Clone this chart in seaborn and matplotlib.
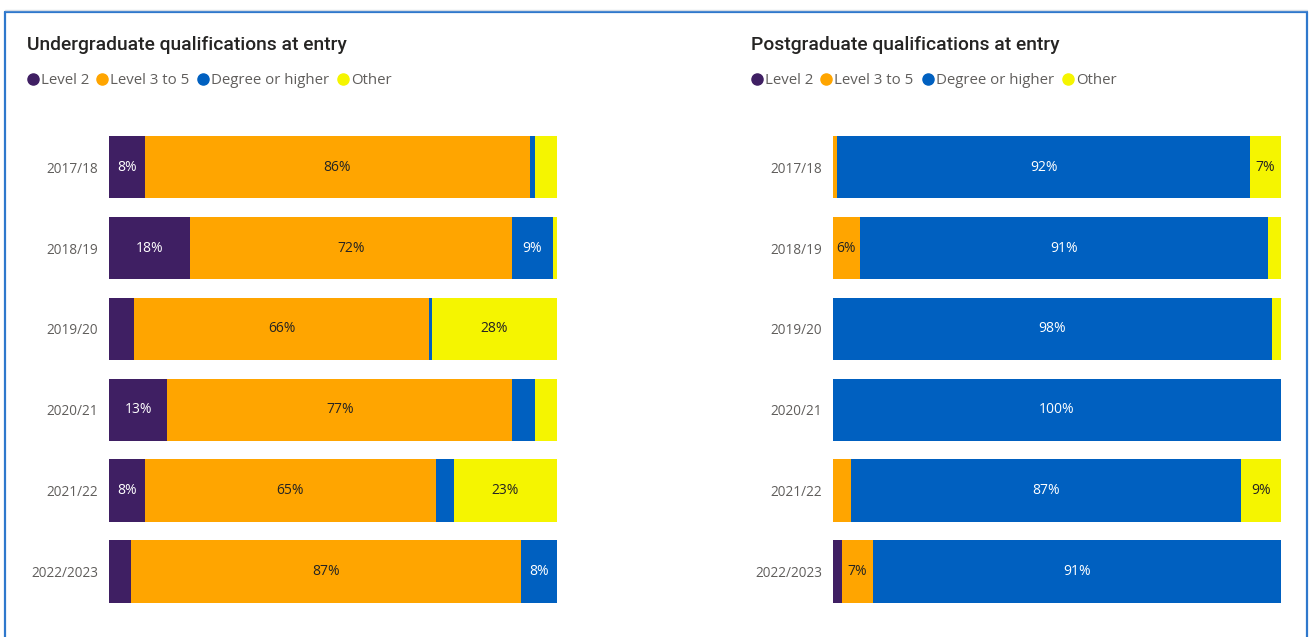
import numpy as np
import pandas as pd
import matplotlib
matplotlib.use("Agg")
import matplotlib.pyplot as plt
import seaborn as sns
from matplotlib.lines import Line2D

# ---- data (percent of entrants) ----
years = ["2017/18", "2018/19", "2019/20", "2020/21", "2021/22", "2022/2023"]
series = ["Level 2", "Level 3 to 5", "Degree or higher", "Other"]

ug_level2 = [8, 18, 5.5, 13, 8, 5]
ug_level3_5 = [86, 72, 66, 77, 65, 87]
ug_degree = [1, 9, 0.5, 5, 4, 8]
ug_other = [5, 1, 28, 5, 23, 0]

pg_level2 = [0, 0, 0, 0, 0, 2]
pg_level3_5 = [1, 6, 0, 0, 4, 7]
pg_degree = [92, 91, 98, 100, 87, 91]
pg_other = [7, 3, 2, 0, 9, 0]

titles = ["Undergraduate qualifications at entry", "Postgraduate qualifications at entry"]

# ---- styling ----
colors = ["#3F1F63", "#FFA500", "#0060C0", "#F5F500"]
label_colors = ["white", "#252423", "white", "#252423"]
text_grey = "#605E5C"
ui_font = ["Open Sans", "DejaVu Sans"]
title_font = ["Roboto", "DejaVu Sans"]

sns.set_theme(style="white")
plt.rcParams["font.family"] = ui_font

W, H = 1309, 637
fig = plt.figure(figsize=(W / 100, H / 100), dpi=100)


def fx(px):
    return px / W


def fy(py):
    return 1 - py / H


def stacked_panel(ax, parts):
    values = np.array(parts, dtype=float)          # shape: (series, years)
    ends = np.cumsum(values, axis=0)
    starts = ends - values
    # draw cumulative totals from the widest down so each segment shows
    for k in reversed(range(len(series))):
        df = pd.DataFrame({"year": years, "end": ends[k]})
        sns.barplot(data=df, x="end", y="year", order=years, orient="h",
                    color=colors[k], saturation=1, width=0.77,
                    errorbar=None, ax=ax, linewidth=0)
    for k in range(len(series)):
        for i in range(len(years)):
            v = values[k, i]
            if v >= 6:
                ax.text(starts[k, i] + v / 2, i, f"{v:.0f}%", ha="center",
                        va="center", fontsize=10, color=label_colors[k])
    ax.set_xlim(0, 100)
    ax.set_ylim(len(years) - 0.5, -0.5)
    ax.set_xlabel("")
    ax.set_ylabel("")
    ax.set_xticks([])
    ax.tick_params(axis="y", length=0, pad=8, labelsize=9.8, labelcolor=text_grey)
    for s in ax.spines.values():
        s.set_visible(False)


ax_bottom = fy(611.8)
ax_height = (611.8 - 126.8) / H
ax_ug = fig.add_axes([fx(109), ax_bottom, fx(448), ax_height])
ax_pg = fig.add_axes([fx(833), ax_bottom, fx(448), ax_height])

stacked_panel(ax_ug, [ug_level2, ug_level3_5, ug_degree, ug_other])
stacked_panel(ax_pg, [pg_level2, pg_level3_5, pg_degree, pg_other])

# ---- titles and legends ----
panel_x = [27, 751]
legend_dots = [[33, 102, 203, 343], [757, 826, 928, 1068]]
for p in range(2):
    fig.text(fx(panel_x[p]), fy(45), titles[p], fontsize=13.9, color="#252423",
             family=title_font, weight="medium", ha="left", va="center")
    for k, name in enumerate(series):
        xd = legend_dots[p][k]
        fig.add_artist(Line2D([fx(xd)], [fy(79)], marker="o", markersize=8,
                              color=colors[k], linestyle="none",
                              transform=fig.transFigure))
        fig.text(fx(xd + 8), fy(80.5), name, fontsize=10.8, color=text_grey,
                 ha="left", va="center")

# ---- frame around the report card ----
frame = "#2F78CC"
fig.add_artist(Line2D([fx(4.5), fx(4.5)], [fy(12), 0], color=frame, lw=1.6,
                      transform=fig.transFigure))
fig.add_artist(Line2D([fx(1307), fx(1307)], [fy(12), 0], color=frame, lw=1.6,
                      transform=fig.transFigure))
fig.add_artist(Line2D([fx(4.5), fx(1307)], [fy(12), fy(12)], color=frame, lw=1.6,
                      transform=fig.transFigure))
fig.add_artist(Line2D([fx(4.5), fx(1307)], [fy(10), fy(10)], color="#D6DCE4", lw=1,
                      transform=fig.transFigure))

fig.savefig("out.png", dpi=100)
